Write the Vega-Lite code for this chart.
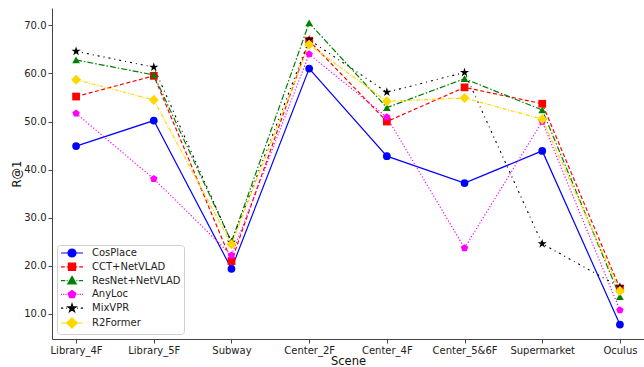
{
  "$schema": "https://vega.github.io/schema/vega-lite/v6.json",
  "autosize": {"type": "none"},
  "padding": {"left": 52, "top": 8, "right": 0, "bottom": 28},
  "width": 592,
  "height": 331,
  "background": "white",
  "config": {
    "view": {"stroke": null},
    "font": "DejaVu Sans",
    "axis": {
      "grid": false,
      "labelFont": "DejaVu Sans",
      "labelFontSize": 10,
      "labelColor": "#222",
      "titleFont": "DejaVu Sans",
      "titleFontSize": 11.5,
      "titleFontWeight": "normal",
      "titleColor": "#111",
      "domainColor": "#444",
      "tickColor": "#444",
      "tickSize": 4,
      "labelPadding": 2
    },
    "legend": {
      "labelFont": "DejaVu Sans",
      "labelFontSize": 10,
      "labelColor": "#222"
    }
  },
  "data": {
    "values": [
      {"series": "CosPlace", "scene": "Library_4F", "r1": 44.9},
      {"series": "CosPlace", "scene": "Library_5F", "r1": 50.2},
      {"series": "CosPlace", "scene": "Subway", "r1": 19.4},
      {"series": "CosPlace", "scene": "Center_2F", "r1": 61.0},
      {"series": "CosPlace", "scene": "Center_4F", "r1": 42.8},
      {"series": "CosPlace", "scene": "Center_5&6F", "r1": 37.2},
      {"series": "CosPlace", "scene": "Supermarket", "r1": 43.9},
      {"series": "CosPlace", "scene": "Oculus", "r1": 7.8},
      {"series": "CCT+NetVLAD", "scene": "Library_4F", "r1": 55.2},
      {"series": "CCT+NetVLAD", "scene": "Library_5F", "r1": 59.5},
      {"series": "CCT+NetVLAD", "scene": "Subway", "r1": 21.0},
      {"series": "CCT+NetVLAD", "scene": "Center_2F", "r1": 66.8},
      {"series": "CCT+NetVLAD", "scene": "Center_4F", "r1": 50.0},
      {"series": "CCT+NetVLAD", "scene": "Center_5&6F", "r1": 57.1},
      {"series": "CCT+NetVLAD", "scene": "Supermarket", "r1": 53.7},
      {"series": "CCT+NetVLAD", "scene": "Oculus", "r1": 15.3},
      {"series": "ResNet+NetVLAD", "scene": "Library_4F", "r1": 62.8},
      {"series": "ResNet+NetVLAD", "scene": "Library_5F", "r1": 59.7},
      {"series": "ResNet+NetVLAD", "scene": "Subway", "r1": 25.0},
      {"series": "ResNet+NetVLAD", "scene": "Center_2F", "r1": 70.5},
      {"series": "ResNet+NetVLAD", "scene": "Center_4F", "r1": 52.9},
      {"series": "ResNet+NetVLAD", "scene": "Center_5&6F", "r1": 58.9},
      {"series": "ResNet+NetVLAD", "scene": "Supermarket", "r1": 52.4},
      {"series": "ResNet+NetVLAD", "scene": "Oculus", "r1": 13.6},
      {"series": "AnyLoc", "scene": "Library_4F", "r1": 51.7},
      {"series": "AnyLoc", "scene": "Library_5F", "r1": 38.1},
      {"series": "AnyLoc", "scene": "Subway", "r1": 22.2},
      {"series": "AnyLoc", "scene": "Center_2F", "r1": 64.0},
      {"series": "AnyLoc", "scene": "Center_4F", "r1": 50.9},
      {"series": "AnyLoc", "scene": "Center_5&6F", "r1": 23.7},
      {"series": "AnyLoc", "scene": "Supermarket", "r1": 50.0},
      {"series": "AnyLoc", "scene": "Oculus", "r1": 10.8},
      {"series": "MixVPR", "scene": "Library_4F", "r1": 64.6},
      {"series": "MixVPR", "scene": "Library_5F", "r1": 61.3},
      {"series": "MixVPR", "scene": "Subway", "r1": 24.9},
      {"series": "MixVPR", "scene": "Center_2F", "r1": 67.0},
      {"series": "MixVPR", "scene": "Center_4F", "r1": 56.1},
      {"series": "MixVPR", "scene": "Center_5&6F", "r1": 60.2},
      {"series": "MixVPR", "scene": "Supermarket", "r1": 24.6},
      {"series": "MixVPR", "scene": "Oculus", "r1": 15.6},
      {"series": "R2Former", "scene": "Library_4F", "r1": 58.7},
      {"series": "R2Former", "scene": "Library_5F", "r1": 54.5},
      {"series": "R2Former", "scene": "Subway", "r1": 24.5},
      {"series": "R2Former", "scene": "Center_2F", "r1": 66.0},
      {"series": "R2Former", "scene": "Center_4F", "r1": 54.2},
      {"series": "R2Former", "scene": "Center_5&6F", "r1": 54.9},
      {"series": "R2Former", "scene": "Supermarket", "r1": 50.5},
      {"series": "R2Former", "scene": "Oculus", "r1": 14.8}
    ]
  },
  "encoding": {
    "x": {
      "field": "scene",
      "type": "ordinal",
      "sort": ["Library_4F", "Library_5F", "Subway", "Center_2F", "Center_4F", "Center_5&6F", "Supermarket", "Oculus"],
      "scale": {"type": "point", "padding": 0.31},
      "axis": {"title": "Scene", "labelAngle": 0, "titlePadding": 0}
    },
    "y": {
      "field": "r1",
      "type": "quantitative",
      "scale": {"domain": [4.8, 73.6], "nice": false, "zero": false},
      "axis": {"title": "R@1", "values": [10, 20, 30, 40, 50, 60, 70], "format": ".1f", "titlePadding": 1}
    }
  },
  "layer": [
    {
      "transform": [{"filter": "datum.series === 'CosPlace'"}],
      "mark": {"type": "line", "strokeWidth": 1.2, "color": "#0000ff"}
    },
    {
      "transform": [{"filter": "datum.series === 'CCT+NetVLAD'"}],
      "mark": {"type": "line", "strokeWidth": 1.2, "color": "#ff0000", "strokeDash": [4, 2.5]}
    },
    {
      "transform": [{"filter": "datum.series === 'ResNet+NetVLAD'"}],
      "mark": {"type": "line", "strokeWidth": 1.2, "color": "#008000", "strokeDash": [6, 2, 1.5, 2]}
    },
    {
      "transform": [{"filter": "datum.series === 'AnyLoc'"}],
      "mark": {"type": "line", "strokeWidth": 1.2, "color": "#ff00ff", "strokeDash": [1.2, 2]}
    },
    {
      "transform": [{"filter": "datum.series === 'MixVPR'"}],
      "mark": {"type": "line", "strokeWidth": 1.1, "color": "#000000", "strokeDash": [2, 4, 1, 4]}
    },
    {
      "transform": [{"filter": "datum.series === 'R2Former'"}],
      "mark": {"type": "line", "strokeWidth": 1.2, "color": "#ffd700", "strokeDash": [4, 1.5, 1, 1.5]}
    },
    {
      "transform": [{"filter": "datum.series === 'CosPlace'"}],
      "mark": {"type": "point", "filled": true, "opacity": 1, "size": 60, "shape": "circle", "color": "#0000ff"}
    },
    {
      "transform": [{"filter": "datum.series === 'CCT+NetVLAD'"}],
      "mark": {"type": "point", "filled": true, "opacity": 1, "size": 60, "shape": "square", "color": "#ff0000"}
    },
    {
      "transform": [{"filter": "datum.series === 'ResNet+NetVLAD'"}],
      "mark": {"type": "point", "filled": true, "opacity": 1, "size": 60, "shape": "triangle-up", "color": "#008000"}
    },
    {
      "transform": [{"filter": "datum.series === 'AnyLoc'"}],
      "mark": {"type": "point", "filled": true, "opacity": 1, "size": 60, "shape": "M0,-1L0.951,-0.309L0.588,0.809L-0.588,0.809L-0.951,-0.309Z", "color": "#ff00ff"}
    },
    {
      "transform": [{"filter": "datum.series === 'MixVPR'"}],
      "mark": {"type": "point", "filled": true, "opacity": 1, "size": 60, "shape": "M0,-1.25L0.281,-0.386L1.189,-0.386L0.454,0.148L0.735,1.011L0,0.477L-0.735,1.011L-0.454,0.148L-1.189,-0.386L-0.281,-0.386Z", "color": "#000000"}
    },
    {
      "transform": [{"filter": "datum.series === 'R2Former'"}],
      "mark": {"type": "point", "filled": true, "opacity": 1, "size": 60, "shape": "M0,-1.3L1.3,0L0,1.3L-1.3,0Z", "color": "#ffd700"}
    },
    {
      "mark": {"type": "point", "filled": true, "opacity": 0, "size": 64, "strokeWidth": 1.2},
      "encoding": {
        "fill": {
          "field": "series", "type": "nominal",
          "scale": {"domain": ["CosPlace", "CCT+NetVLAD", "ResNet+NetVLAD", "AnyLoc", "MixVPR", "R2Former"],
                    "range": ["#0000ff", "#ff0000", "#008000", "#ff00ff", "#000000", "#ffd700"]},
          "legend": {
            "title": null, "orient": "bottom-left", "offset": 5, "padding": 3,
            "fillColor": "white", "strokeColor": "#d0d0d0", "cornerRadius": 3,
            "symbolOffset": 7, "labelOffset": 15, "rowPadding": 0.8,
            "symbolOpacity": 1, "symbolStrokeWidth": 1.2, "symbolSize": 64
          }
        },
        "stroke": {
          "field": "series", "type": "nominal",
          "scale": {"domain": ["CosPlace", "CCT+NetVLAD", "ResNet+NetVLAD", "AnyLoc", "MixVPR", "R2Former"],
                    "range": ["#0000ff", "#ff0000", "#008000", "#ff00ff", "#000000", "#ffd700"]},
          "legend": {
            "title": null, "orient": "bottom-left", "offset": 5, "padding": 3,
            "fillColor": "white", "strokeColor": "#d0d0d0", "cornerRadius": 3,
            "symbolOffset": 7, "labelOffset": 15, "rowPadding": 0.8,
            "symbolOpacity": 1, "symbolStrokeWidth": 1.2, "symbolSize": 64
          }
        },
        "shape": {
          "field": "series", "type": "nominal",
          "scale": {"domain": ["CosPlace", "CCT+NetVLAD", "ResNet+NetVLAD", "AnyLoc", "MixVPR", "R2Former"],
                    "range": [
                      "M-2.75,0L2.75,0M1,0A1,1,0,1,1,-1,0A1,1,0,1,1,1,0Z",
                      "M-2.75,0L-1.8,0M-1.3,0L-0.5,0M0.5,0L1.3,0M1.8,0L2.75,0M-0.9,-0.9L0.9,-0.9L0.9,0.9L-0.9,0.9Z",
                      "M-2.75,0L-1.7,0M-1.35,0L-1.1,0M1.1,0L1.35,0M1.7,0L2.75,0M0,-1.05L1.05,0.8L-1.05,0.8Z",
                      "M-2.75,0L-2.5,0M-2.2,0L-1.95,0M-1.65,0L-1.4,0M-1.1,0L-0.85,0M0.85,0L1.1,0M1.4,0L1.65,0M1.95,0L2.2,0M2.5,0L2.75,0M0,-1L0.951,-0.309L0.588,0.809L-0.588,0.809L-0.951,-0.309Z",
                      "M-2.75,0L-2.2,0M-1.5,0L-1.3,0M1.3,0L1.5,0M2.2,0L2.75,0M0,-1.05L0.236,-0.324L0.999,-0.324L0.382,0.124L0.617,0.85L0,0.401L-0.617,0.85L-0.382,0.124L-0.999,-0.324L-0.236,-0.324Z",
                      "M-2.75,0L2.75,0M0,-1.3L1.3,0L0,1.3L-1.3,0Z"
                    ]},
          "legend": {
            "title": null, "orient": "bottom-left", "offset": 5, "padding": 3,
            "fillColor": "white", "strokeColor": "#d0d0d0", "cornerRadius": 3,
            "symbolOffset": 7, "labelOffset": 15, "rowPadding": 0.8,
            "symbolOpacity": 1, "symbolStrokeWidth": 1.2, "symbolSize": 64
          }
        }
      }
    },
    {
      "data": {"values": [{"edge": "top"}]},
      "mark": {"type": "rule", "color": "#444", "strokeWidth": 1},
      "encoding": {"x": null, "y": {"datum": 73.6, "type": "quantitative"}}
    }
  ]
}
